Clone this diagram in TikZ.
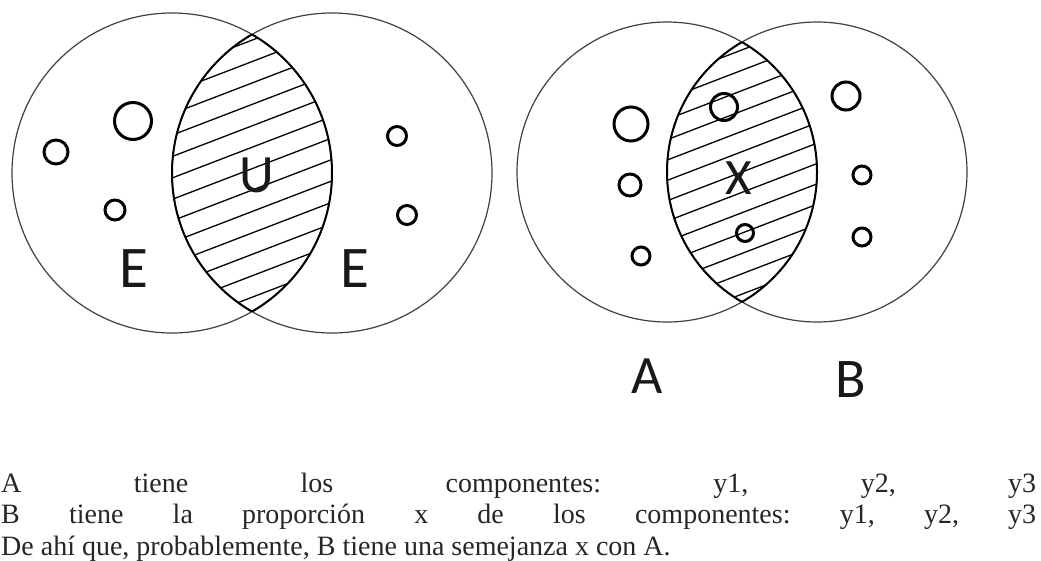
\documentclass[tikz,border=0pt]{standalone}
\usepackage{fontspec}
\setmainfont{Liberation Serif}
\newfontfamily\labfont{Carlito}
\begin{document}
\begin{tikzpicture}[x=1pt,y=1pt,
  bigc/.style={draw=black!75, line width=1.2pt},
  lensline/.style={draw=black, line width=2pt},
  hatch/.style={draw=black, line width=1.3pt},
  dot/.style={draw=black, line width=3pt},
  lbl/.style={font=\labfont\fontsize{#1}{#1}\selectfont, inner sep=0pt, text=black!90},
  txt/.style={font=\fontsize{28}{32}\selectfont, inner sep=0pt, anchor=base west, text=black!85}]
\useasboundingbox (0,0) rectangle (1041,-560);
\fill[white] (0,0) rectangle (1041,-560);

% ---------- left pair ----------
\coordinate (L1) at (172,-173);
\coordinate (L2) at (332,-173);
\begin{scope}
  \clip (L1) circle (160);
  \clip (L2) circle (160);
  \begin{scope}[shift={(252,-173)}, rotate=21]
    \foreach \k in {-12,...,12} \draw[hatch] (-260,\k*20+4) -- (260,\k*20+4);
  \end{scope}
\end{scope}
\draw[bigc] (L1) circle (160);
\draw[bigc] (L2) circle (160);
\begin{scope}
  \clip (L1) circle (160);
  \draw[lensline] (L2) circle (160);
\end{scope}
\begin{scope}
  \clip (L2) circle (160);
  \draw[lensline] (L1) circle (160);
\end{scope}
\draw[dot] (133,-121) circle (18.5);
\draw[dot] (56,-152) circle (12);
\draw[dot] (115,-210) circle (10);
\draw[dot] (397,-136) circle (9.5);
\draw[dot] (407,-215) circle (9.5);
\node[lbl=59] (e1) at (134,-269) {E};
\node[lbl=59] (e2) at (355,-269) {E};
\node[lbl=54] (u) at (257,-175) {U};

% ---------- right pair ----------
\coordinate (R1) at (667,-172);
\coordinate (R2) at (817,-172);
\begin{scope}
  \clip (R1) circle (150);
  \clip (R2) circle (150);
  \begin{scope}[shift={(742,-172)}, rotate=21]
    \foreach \k in {-12,...,12} \draw[hatch] (-260,\k*19) -- (260,\k*19);
  \end{scope}
\end{scope}
\draw[bigc] (R1) circle (150);
\draw[bigc] (R2) circle (150);
\begin{scope}
  \clip (R1) circle (150);
  \draw[lensline] (R2) circle (150);
\end{scope}
\begin{scope}
  \clip (R2) circle (150);
  \draw[lensline] (R1) circle (150);
\end{scope}
\draw[dot] (631,-124) circle (17);
\draw[dot] (630,-185) circle (11);
\draw[dot] (641,-256) circle (9);
\draw[dot] (724,-107) circle (13.5);
\draw[dot] (745,-233) circle (8.5);
\draw[dot] (846,-96) circle (14);
\draw[dot] (862,-175) circle (9);
\draw[dot] (862,-237) circle (9);
\node[lbl=51] (x) at (739,-178) {X};
\node[lbl=54] (a) at (647,-376) {A};
\node[lbl=56] (b) at (851,-380) {B};

% ---------- text ----------
\node[txt] (t1) at (1,-492) {\makebox[1035pt][s]{A\hfill tiene\hfill los\hfill componentes:\hfill y1,\hfill y2,\hfill y3}};
\node[txt] (t2) at (1,-523) {\makebox[1035pt][s]{B\hfill tiene\hfill la\hfill proporción\hfill x\hfill de\hfill los\hfill componentes:\hfill y1,\hfill y2,\hfill y3}};
\node[txt] (t3) at (1,-555) {De ahí que, probablemente, B tiene una semejanza x con A.};
\end{tikzpicture}
\end{document}
